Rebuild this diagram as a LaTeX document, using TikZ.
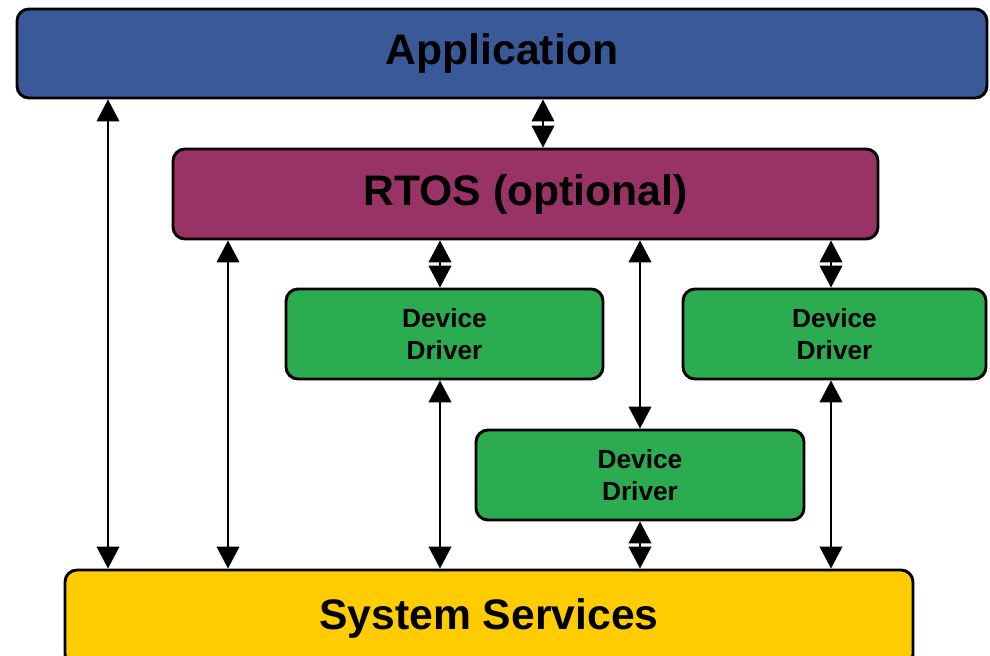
\documentclass[tikz,border=0pt]{standalone}
\usepackage{fontspec}
\setmainfont{Liberation Sans}
\usetikzlibrary{arrows.meta}
\definecolor{appblue}{RGB}{57,89,153}
\definecolor{rtospurple}{RGB}{153,51,102}
\definecolor{drvgreen}{RGB}{43,172,80}
\definecolor{sysyellow}{RGB}{255,204,0}
\tikzset{
	layer/.style={draw=black, line width=2.2pt, rounded corners=9pt, inner sep=0pt, align=center, font=\bfseries\fontsize{32}{38}\selectfont},
	driver/.style={layer, fill=drvgreen, minimum width=#1, minimum height=67.5pt, font=\bfseries\fontsize{19.7}{23.5}\selectfont},
	link/.style={{Triangle[width=17pt,length=16.5pt]}-{Triangle[width=17pt,length=16.5pt]}, line width=1.5pt}
}

\begin{document}
\begin{tikzpicture}[x=0.75pt, y=-0.75pt]
			%%%%% START %%%%%
			\useasboundingbox (0,0) rectangle (990,656);
			
			\node[layer, fill=appblue, minimum width=727.5pt, minimum height=66.75pt] (app) at (502, 53.5) {Application};
			\node[layer, fill=rtospurple, minimum width=528.75pt, minimum height=67.5pt] (rtos) at (525.5, 194) {RTOS (optional)};
			\node[driver=237.75pt] (drvA) at (444.5, 334) {Device\\Driver};
			\node[driver=227.25pt] (drvC) at (834.5, 334) {Device\\Driver};
			\node[driver=246pt] (drvB) at (640, 475) {Device\\Driver};
			\node[layer, fill=sysyellow, minimum width=636pt, minimum height=72pt] (sys) at (489, 618) {System Services};
			
			% columns of the connectors
			\coordinate (c1) at (108, 0);
			\coordinate (c2) at (228, 0);
			\coordinate (c3) at (440, 0);
			\coordinate (c4) at (543, 0);
			\coordinate (c5) at (640, 0);
			\coordinate (c6) at (831, 0);
			
			\draw[link] (app.south -| c1) -- (sys.north -| c1);
			\draw[link] (app.south -| c4) -- (rtos.north -| c4);
			
			\draw[link] (rtos.south -| c2) -- (sys.north -| c2);
			\draw[link] (rtos.south -| c3) -- (drvA.north -| c3);
			\draw[link] (rtos.south -| c5) -- (drvB.north -| c5);
			\draw[link] (rtos.south -| c6) -- (drvC.north -| c6);
			
			\draw[link] (drvA.south -| c3) -- (sys.north -| c3);
			\draw[link] (drvB.south -| c5) -- (sys.north -| c5);
			\draw[link] (drvC.south -| c6) -- (sys.north -| c6);
			%%%%% END %%%%%
\end{tikzpicture}
\end{document}
